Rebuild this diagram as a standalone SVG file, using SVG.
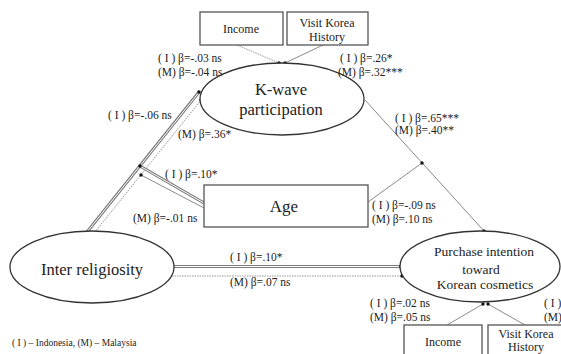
<svg xmlns="http://www.w3.org/2000/svg" width="561" height="354" viewBox="0 0 561 354" font-family="'Liberation Serif', 'DejaVu Serif', 'Times New Roman', serif">
<defs>
<marker id="dot" viewBox="0 0 4 4" refX="2" refY="2" markerWidth="4" markerHeight="4" markerUnits="userSpaceOnUse">
<circle cx="2" cy="2" r="1.7" fill="#111"/>
</marker>
<style>
text{font-family:'Liberation Serif','DejaVu Serif','Times New Roman',serif;fill:#222}
.box{fill:#fff;stroke:#555;stroke-width:1.3}
.ell{fill:#fff;stroke:#333;stroke-width:1.3}
.lab{font-size:11.5px}
.ctl{font-size:12px;text-anchor:middle}
.big{font-size:16.5px;text-anchor:middle}
.mid{font-size:13.5px;text-anchor:middle}
.dbl{stroke:#7a7a7a;stroke-width:3;fill:none}
.dblin{stroke:#fff;stroke-width:1;fill:none}
.dtd{stroke:#999;stroke-width:1;stroke-dasharray:1.5 1;fill:none}
.sgl{stroke:#8a8a8a;stroke-width:1;fill:none}
.leg{font-size:9.5px}
</style>
</defs>
<rect width="561" height="354" fill="#fff"/>

<g id="connectors">
<line class="dtd" x1="237" y1="45" x2="279" y2="63" marker-end="url(#dot)"/>
<line class="sgl" x1="323" y1="45" x2="285" y2="63" marker-end="url(#dot)"/>
<line class="dbl" x1="87" y1="232" x2="199" y2="92" marker-end="url(#dot)"/>
<line class="dblin" x1="87" y1="232" x2="198" y2="93.5"/>
<line class="dtd" x1="95" y1="232" x2="201" y2="100" marker-end="url(#dot)"/>
<line class="dbl" x1="204" y1="203" x2="140" y2="166" marker-end="url(#dot)"/>
<line class="dblin" x1="204" y1="203" x2="141.5" y2="167"/>
<line class="sgl" x1="204" y1="208" x2="141" y2="175" marker-end="url(#dot)"/>
<line class="sgl" x1="365" y1="100" x2="484" y2="231" marker-end="url(#dot)"/>
<line class="sgl" x1="368" y1="202" x2="422" y2="163" marker-end="url(#dot)"/>
<line class="dbl" x1="174" y1="266.5" x2="401" y2="266.5" marker-end="url(#dot)"/>
<line class="dblin" x1="174" y1="266.5" x2="399" y2="266.5"/>
<line class="dtd" x1="172" y1="276" x2="402" y2="276" marker-end="url(#dot)"/>
<line class="sgl" x1="447" y1="325" x2="483" y2="304" marker-end="url(#dot)"/>
<line class="sgl" x1="525" y1="325" x2="488" y2="304" marker-end="url(#dot)"/>
</g>

<g id="income-top">
<rect class="box" x="200" y="12" width="83" height="33"/>
<text class="ctl" x="241" y="33">Income</text>
</g>
<g id="visit-top">
<rect class="box" x="287" y="12" width="81" height="33"/>
<text class="ctl" x="327" y="27">Visit Korea</text>
<text class="ctl" x="327" y="41">History</text>
</g>
<g id="kwave">
<ellipse class="ell" cx="282" cy="99" rx="82" ry="36"/>
<text class="big" x="281" y="95">K-wave</text>
<text class="big" x="281" y="115">participation</text>
</g>
<g id="age">
<rect class="box" x="204" y="185" width="164" height="42"/>
<text class="big" x="284" y="212" style="font-size:17px">Age</text>
</g>
<g id="inter">
<ellipse class="ell" cx="92" cy="267" rx="82" ry="36"/>
<text class="big" x="92" y="275">Inter religiosity</text>
</g>
<g id="purchase">
<ellipse class="ell" cx="480" cy="266.5" rx="80" ry="35.5"/>
<text class="mid" x="484" y="256">Purchase intention</text>
<text class="mid" x="481" y="274">toward</text>
<text class="mid" x="485" y="289">Korean cosmetics</text>
</g>
<g id="income-bottom">
<rect class="box" x="404" y="325" width="78" height="34"/>
<text class="ctl" x="443" y="346">Income</text>
</g>
<g id="visit-bottom">
<rect class="box" x="488" y="325" width="78" height="34"/>
<text class="ctl" x="526" y="338">Visit Korea</text>
<text class="ctl" x="526" y="351">History</text>
</g>

<g id="labels">
<text class="lab" x="158" y="62">( I ) β=-.03 ns</text>
<text class="lab" x="158" y="76">(M) β=-.04 ns</text>
<text class="lab" x="340" y="62">( I ) β=.26*</text>
<text class="lab" x="338" y="76">(M) β=.32***</text>
<text class="lab" x="108" y="119">( I ) β=-.06 ns</text>
<text class="lab" x="178" y="138">(M) β=.36*</text>
<text class="lab" x="165" y="178">( I ) β=.10*</text>
<text class="lab" x="133" y="222">(M) β=-.01 ns</text>
<text class="lab" x="395" y="122">( I ) β=.65***</text>
<text class="lab" x="395" y="134">(M) β=.40**</text>
<text class="lab" x="372" y="209">( I ) β=-.09 ns</text>
<text class="lab" x="372" y="223">(M) β=.10 ns</text>
<text class="lab" x="230" y="261">( I ) β=.10*</text>
<text class="lab" x="230" y="286">(M) β=.07 ns</text>
<text class="lab" x="370" y="307">( I ) β=.02 ns</text>
<text class="lab" x="370" y="321">(M) β=.05 ns</text>
<text class="lab" x="544" y="307">( I )</text>
<text class="lab" x="544" y="321">(M)</text>
<text class="leg" x="12" y="346">( I ) – Indonesia, (M) – Malaysia</text>
</g>
</svg>
